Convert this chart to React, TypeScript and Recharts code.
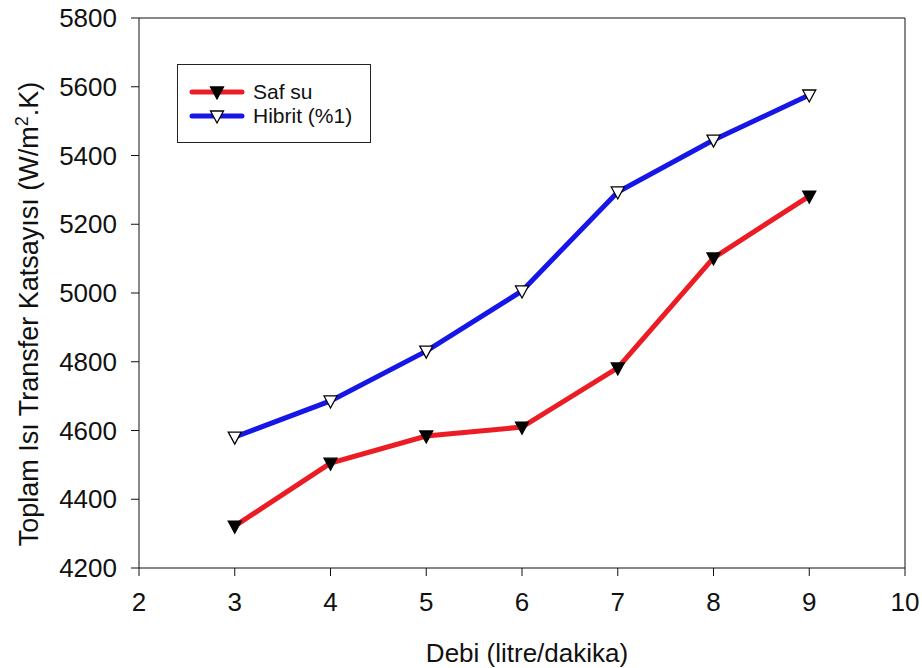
import { LineChart, Line, XAxis, YAxis, ReferenceLine } from "recharts";

const flowRates = [3, 4, 5, 6, 7, 8, 9];
const pureWater = [4322, 4505, 4584, 4610, 4782, 5102, 5282];
const hybrid = [4581, 4686, 4831, 5006, 5294, 5445, 5576];
const xTicks = [2, 3, 4, 5, 6, 7, 8, 9, 10];
const yTicks = [4200, 4400, 4600, 4800, 5000, 5200, 5400, 5600, 5800];

const RED = "#ec1c24";
const BLUE = "#1616e6";
const FONT = "'Liberation Sans', Arial, sans-serif";

const data = flowRates.map((x, i) => ({ x, saf: pureWater[i], hibrit: hybrid[i] }));

function Triangle({ cx, cy, fill }: { cx?: number; cy?: number; fill: string }) {
    if (cx == null || cy == null) return null;
    const w = 6.5;
    return (
        <path
            d={`M${cx - w},${cy - 5} L${cx + w},${cy - 5} L${cx},${cy + 7} Z`}
            fill={fill}
            stroke="#000"
            strokeWidth={1.3}
        />
    );
}

function LegendBox() {
    const rows = [
        { label: "Saf su", color: RED, fill: "#000" },
        { label: "Hibrit (%1)", color: BLUE, fill: "#fff" },
    ];
    return (
        <div
            style={{
                position: "absolute",
                left: 177,
                top: 64,
                width: 194,
                height: 79,
                border: "1.5px solid #222",
                background: "#fff",
                boxSizing: "border-box",
            }}
        >
            {rows.map((r, i) => (
                <div key={r.label} style={{ position: "absolute", left: 11, top: 15 + i * 24, height: 24, display: "flex", alignItems: "center" }}>
                    <svg width={56} height={20}>
                        <line x1={3} y1={10} x2={53} y2={10} stroke={r.color} strokeWidth={5} strokeLinecap="round" />
                        <path d="M21.5,5 L34.5,5 L28,17 Z" fill={r.fill} stroke="#000" strokeWidth={1.3} />
                    </svg>
                    <span style={{ marginLeft: 8, fontSize: 21, fontFamily: FONT, color: "#111" }}>{r.label}</span>
                </div>
            ))}
        </div>
    );
}

export default function App() {
    const tickStyle = { fontSize: 26, fill: "#111", fontFamily: FONT };
    return (
        <div style={{ position: "absolute", left: 0, top: 0, width: 922, height: 668, background: "#fff", fontFamily: FONT }}>
            <LineChart width={922} height={668} data={data} margin={{ top: 18, right: 17, left: 0, bottom: 40 }}>
                <XAxis
                    dataKey="x"
                    type="number"
                    domain={[2, 10]}
                    ticks={xTicks}
                    height={60}
                    stroke="#111"
                    tickSize={8}
                    tickMargin={17}
                    tick={tickStyle}
                    interval={0}
                />
                <YAxis
                    type="number"
                    domain={[4200, 5800]}
                    ticks={yTicks}
                    width={139}
                    stroke="#111"
                    tickSize={8}
                    tickMargin={14}
                    tick={tickStyle}
                    interval={0}
                />
                <ReferenceLine y={5800} stroke="#111" strokeWidth={1} />
                <ReferenceLine x={10} stroke="#111" strokeWidth={1} />
                <Line
                    dataKey="saf"
                    name="Saf su"
                    stroke={RED}
                    strokeWidth={5}
                    strokeLinecap="round"
                    dot={(p: any) => <Triangle key={`s${p.index}`} cx={p.cx} cy={p.cy} fill="#000" />}
                    activeDot={false}
                    isAnimationActive={false}
                />
                <Line
                    dataKey="hibrit"
                    name="Hibrit (%1)"
                    stroke={BLUE}
                    strokeWidth={5}
                    strokeLinecap="round"
                    dot={(p: any) => <Triangle key={`h${p.index}`} cx={p.cx} cy={p.cy} fill="#fff" />}
                    activeDot={false}
                    isAnimationActive={false}
                />
            </LineChart>
            <LegendBox />
            <div
                style={{
                    position: "absolute",
                    left: 28,
                    top: 314,
                    transform: "translate(-50%, -50%) rotate(-90deg)",
                    whiteSpace: "nowrap",
                    fontSize: 27,
                    color: "#111",
                }}
            >
                Toplam Isı Transfer Katsayısı (W/m<sup style={{ fontSize: 18 }}>2</sup>.K)
            </div>
            <div
                style={{
                    position: "absolute",
                    left: 527,
                    top: 653,
                    transform: "translate(-50%, -50%)",
                    whiteSpace: "nowrap",
                    fontSize: 26,
                    color: "#111",
                }}
            >
                Debi (litre/dakika)
            </div>
        </div>
    );
}
